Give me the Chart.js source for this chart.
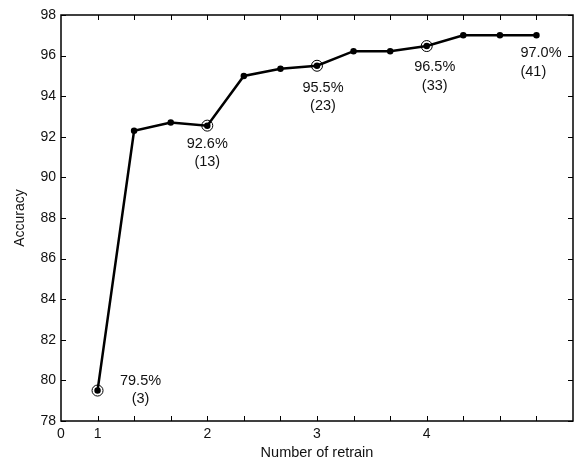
<!DOCTYPE html>
<html>
<head>
<meta charset="utf-8">
<script src="https://cdn.jsdelivr.net/npm/chart.js@4/dist/chart.umd.min.js"></script>
<style>
  html, body { margin: 0; padding: 0; background: #fff; overflow: hidden; }
  canvas { display: block; }
</style>
</head>
<body>
<canvas id="accChart" width="574" height="463"></canvas>
<script>
// -----------------------------
// DATA
// -----------------------------
const retrainX = [1, 1.333, 1.667, 2, 2.333, 2.667, 3, 3.333, 3.667, 4, 4.333, 4.667, 5];
const accuracy = [79.5, 92.3, 92.7, 92.55, 95.0, 95.35, 95.5, 96.22, 96.22, 96.47, 97.0, 97.0, 97.0];

// points drawn with an open circle
const markedIdx = [0, 3, 6, 9];

// text notes next to points
const noteIdx = [0, 3, 6, 9, 12];
const notePct = ["79.5%", "92.6%", "95.5%", "96.5%", "97.0%"];
const noteCount = ["(3)", "(13)", "(23)", "(33)", "(41)"];

// x axis labels
const xTickVals = [0.667, 1, 2, 3, 4];
const xTickText = ["0", "1", "2", "3", "4"];

// -----------------------------
// STYLE
// -----------------------------
const FONT = "'Liberation Sans', Arial, sans-serif";
const INK = "#111";
// [dx, dy, align] of the first note line relative to its point
const noteOffset = [[43, -10, "center"], [0, 18, "center"], [6, 22, "center"], [8, 21, "center"], [-16, 18, "left"]];

Chart.defaults.font.family = FONT;
Chart.defaults.color = INK;

// frame + inward tick marks, matlab style
const framePlugin = {
    id: "frame",
    afterDraw(chart) {
        const {ctx, chartArea: a, scales} = chart;
        const len = 5;
        ctx.save();
        ctx.strokeStyle = "#000";
        ctx.lineWidth = 1;
        ctx.beginPath();
        retrainX.forEach(v => {
            const px = Math.round(scales.x.getPixelForValue(v)) + 0.5;
            ctx.moveTo(px, a.bottom); ctx.lineTo(px, a.bottom - len);
            ctx.moveTo(px, a.top); ctx.lineTo(px, a.top + len);
        });
        scales.y.ticks.forEach(t => {
            const py = Math.round(scales.y.getPixelForValue(t.value)) + 0.5;
            ctx.moveTo(a.left, py); ctx.lineTo(a.left + len, py);
            ctx.moveTo(a.right, py); ctx.lineTo(a.right - len, py);
        });
        ctx.stroke();
        ctx.lineWidth = 1.5;
        ctx.strokeRect(a.left, a.top, a.right - a.left, a.bottom - a.top);
        ctx.restore();
    }
};

// percentage / count notes
const notePlugin = {
    id: "notes",
    afterDatasetsDraw(chart) {
        const {ctx} = chart;
        const pts = chart.getDatasetMeta(0).data;
        ctx.save();
        ctx.fillStyle = INK;
        ctx.font = "14.5px " + FONT;
        ctx.textBaseline = "middle";
        noteIdx.forEach((idx, k) => {
            const p = pts[idx];
            const [dx, dy, align] = noteOffset[k];
            ctx.textAlign = align;
            ctx.fillText(notePct[k], p.x + dx, p.y + dy);
            ctx.fillText(noteCount[k], p.x + dx, p.y + dy + 18.5);
        });
        ctx.restore();
    }
};

new Chart(document.getElementById("accChart"), {
    type: "line",
    data: {
        datasets: [{
            data: retrainX.map((x, i) => ({x, y: accuracy[i]})),
            borderColor: "#000",
            borderWidth: 2.5,
            pointRadius: 2,
            pointBackgroundColor: "#000",
            pointBorderColor: "#000",
            tension: 0
        }, {
            data: markedIdx.map(i => ({x: retrainX[i], y: accuracy[i]})),
            showLine: false,
            pointRadius: 5.5,
            pointBorderWidth: 1,
            pointBorderColor: "#000",
            pointBackgroundColor: "rgba(0,0,0,0)"
        }]
    },
    options: {
        responsive: false,
        animation: false,
        layout: { autoPadding: false, padding: { top: 15, right: 1, left: 0, bottom: 0 } },
        plugins: { legend: { display: false }, tooltip: { enabled: false } },
        scales: {
            x: {
                type: "linear",
                min: 0.667,
                max: 5.333,
                afterBuildTicks: s => { s.ticks = xTickVals.map(v => ({value: v})); },
                afterFit: s => { s.height = 42; s.paddingLeft = 0; s.paddingRight = 0; },
                grid: { display: false, drawTicks: false },
                border: { display: false },
                ticks: {
                    autoSkip: false,
                    maxRotation: 0,
                    padding: 5,
                    font: { size: 14 },
                    callback: (v, i) => xTickText[i]
                },
                title: {
                    display: true,
                    text: "Number of retrain",
                    font: { size: 14.5 },
                    padding: { top: 2, bottom: 1 }
                }
            },
            y: {
                min: 78,
                max: 98,
                afterFit: s => { s.width = 61; },
                grid: { display: false, drawTicks: false },
                border: { display: false },
                ticks: { stepSize: 2, padding: 5, font: { size: 14 } },
                title: {
                    display: true,
                    text: "Accuracy",
                    font: { size: 14 },
                    padding: { top: 12, bottom: 0 }
                }
            }
        }
    },
    plugins: [framePlugin, notePlugin]
});
</script>
</body>
</html>
